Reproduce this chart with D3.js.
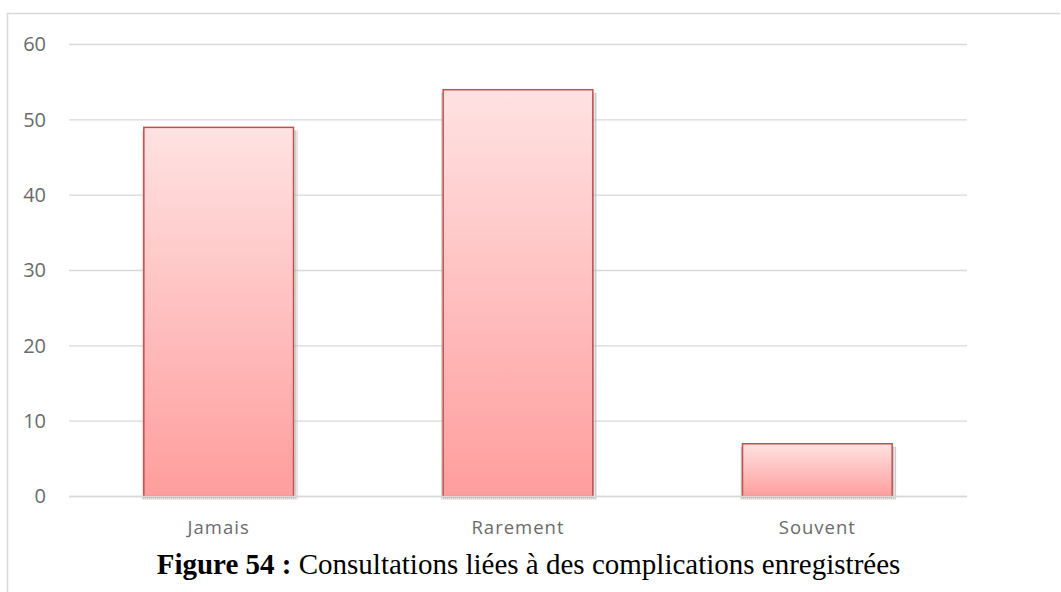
<!DOCTYPE html>
<html>
<head>
<meta charset="utf-8">
<script src="https://cdn.jsdelivr.net/npm/d3@7"></script>
<style>
  body { margin: 0; background: #fff; }
</style>
</head>
<body>
<div id="chart"></div>
<script>
// data
const categories = ['Jamais', 'Rarement', 'Souvent'];
const values = [49, 54, 7];
const yTicks = [0, 10, 20, 30, 40, 50, 60];
const caption = ['Figure 54 :', ' Consultations liées à des complications enregistrées'];

const W = 1061, H = 592;
const margin = { top: 44.5, right: 94, bottom: 95.5, left: 69 },
  width = W - margin.left - margin.right,
  height = H - margin.top - margin.bottom;

const root = d3.select('#chart')
  .append('svg')
  .attr('width', W)
  .attr('height', H);

const defs = root.append('defs');
const grad = defs.append('linearGradient')
  .attr('id', 'barGrad')
  .attr('x1', 0).attr('y1', 0).attr('x2', 0).attr('y2', 1);
grad.append('stop').attr('offset', '0%').attr('stop-color', '#ffe2e2');
grad.append('stop').attr('offset', '100%').attr('stop-color', '#ff9d9d');

// dotted shadow pattern
const pat = defs.append('pattern')
  .attr('id', 'dots')
  .attr('width', 2).attr('height', 2)
  .attr('patternUnits', 'userSpaceOnUse');
pat.append('rect').attr('width', 1).attr('height', 1).attr('fill', '#9a9a9a');
pat.append('rect').attr('x', 1).attr('y', 1).attr('width', 1).attr('height', 1).attr('fill', '#c8c8c8');

// chart border (open at bottom/right as in the picture)
root.append('path')
  .attr('d', 'M7.5,' + H + ' V13.5 H1060')
  .attr('fill', 'none')
  .attr('stroke', '#d9d9d9')
  .attr('stroke-width', 1.5);

const svg = root.append('g')
  .attr('transform', 'translate(' + margin.left + ',' + margin.top + ')');

const x = d3.scaleBand()
  .domain(categories)
  .range([0, width])
  .paddingInner(0.5)
  .paddingOuter(0.25);

const y = d3.scaleLinear()
  .domain([0, 60])
  .range([height, 0]);

// gridlines
svg.append('g')
  .selectAll('line')
  .data(yTicks)
  .enter()
  .append('line')
  .attr('x1', 0)
  .attr('x2', width)
  .attr('y1', d => y(d))
  .attr('y2', d => y(d))
  .attr('stroke', '#d9d9d9')
  .attr('stroke-width', 1.3);

// y axis labels
const yAxis = svg.append('g')
  .call(d3.axisLeft(y).tickValues(yTicks).tickSize(0).tickPadding(23));
yAxis.select('.domain').remove();
yAxis.selectAll('text')
  .style('font-family', 'Open Sans, sans-serif')
  .style('font-size', '20px')
  .style('fill', '#6b6b6b');

// bars: shadow then bar
const bars = svg.selectAll('.bar')
  .data(categories.map((c, i) => ({ cat: c, value: values[i] })))
  .enter()
  .append('g')
  .attr('class', 'bar');

bars.append('rect')
  .attr('x', d => x(d.cat) - 2)
  .attr('y', d => y(d.value) + 3)
  .attr('width', x.bandwidth() + 6)
  .attr('height', d => y(0) - y(d.value))
  .attr('fill', 'url(#dots)');

bars.append('rect')
  .attr('x', d => x(d.cat))
  .attr('y', d => y(d.value))
  .attr('width', x.bandwidth())
  .attr('height', d => y(0) - y(d.value))
  .attr('fill', 'url(#barGrad)')
  .attr('stroke', '#c0504d')
  .attr('stroke-width', 1.5);

// baseline over bars
svg.append('line')
  .attr('x1', 0).attr('x2', width)
  .attr('y1', y(0)).attr('y2', y(0))
  .attr('stroke', '#d9d9d9')
  .attr('stroke-width', 1.5);

// x axis labels
const xAxis = svg.append('g')
  .attr('transform', 'translate(0,' + height + ')')
  .call(d3.axisBottom(x).tickSize(0).tickPadding(24));
xAxis.select('.domain').remove();
xAxis.selectAll('text')
  .style('font-family', 'Open Sans, sans-serif')
  .style('font-size', '18.5px')
  .style('letter-spacing', '1px')
  .style('fill', '#6b6b6b');

// caption
const cap = root.append('text')
  .attr('x', 528.5)
  .attr('y', 574)
  .attr('text-anchor', 'middle')
  .style('font-family', 'Liberation Serif, Times New Roman, serif')
  .style('font-size', '29px')
  .style('fill', '#000');
cap.append('tspan').style('font-weight', 'bold').text(caption[0]);
cap.append('tspan').text(caption[1]);
</script>
</body>
</html>
